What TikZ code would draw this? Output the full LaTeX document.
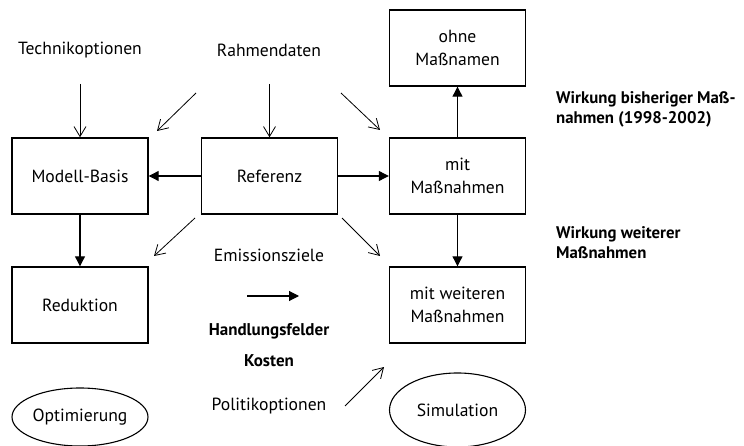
\documentclass[tikz,border=0pt]{standalone}
\usepackage{fontspec}
\setmainfont{PT Sans}
\usetikzlibrary{arrows.meta,shapes.geometric}
\tikzset{
  box/.style={draw,line width=1.4pt,minimum width=136pt,minimum height=76pt,align=center,inner sep=2pt},
  oval/.style={draw,ellipse,line width=1.1pt,minimum width=136pt,align=center,inner sep=0pt},
  lbl/.style={align=center,inner sep=1pt},
  boldlbl/.style={align=center,inner sep=1pt,font=\fontsize{17}{22}\selectfont\bfseries},
  note/.style={align=left,inner sep=1pt,anchor=west,font=\fontsize{16.8}{20}\selectfont\bfseries},
  solidarrow/.style={line width=1.1pt,-{Triangle[length=10pt,width=10pt]}},
  openarrow/.style={line width=0.8pt,-{Straight Barb[length=10pt,width=12pt,line width=0.8pt]}},
}
\begin{document}
\begin{tikzpicture}[x=1pt,y=-1pt,font=\fontsize{17.6}{23}\selectfont]
\useasboundingbox (0,0) rectangle (744,446);
% boxes
\node[box] (mb) at (80,176) {Modell-Basis};
\node[box] (ref) at (269.5,176) {Referenz};
\node[box] (ohne) at (457.5,48) {ohne\\Maßnamen};
\node[box] (mit) at (457.5,176) {mit\\Maßnahmen};
\node[box] (red) at (80,305) {Reduktion};
\node[box] (mw) at (457.5,305) {mit weiteren\\Maßnahmen};
\node[oval,minimum height=58pt] (opt) at (80,417) {Optimierung};
\node[oval,minimum height=74pt] (sim) at (457.5,410) {Simulation};
% labels
\node[lbl] (tech) at (80,50) {Technikoptionen};
\node[lbl] (rahmen) at (269,50) {Rahmendaten};
\node[lbl] (emis) at (269,255) {Emissionsziele};
\node[boldlbl] (hand) at (269,331) {Handlungsfelder};
\node[boldlbl] (kost) at (269,361) {Kosten};
\node[lbl] (poli) at (269,406) {Politikoptionen};
\node[note] (wb) at (555,109) {Wirkung bisheriger Maß-\\nahmen (1998-2002)};
\node[note] (ww) at (555,243) {Wirkung weiterer\\Maßnahmen};
% free ends
\coordinate (tA) at (80,84);
\coordinate (rA) at (269.5,84);
\coordinate (d1s) at (196,93);  \coordinate (d1e) at (157,131);
\coordinate (d2s) at (341,93);  \coordinate (d2e) at (380,130);
\coordinate (d3s) at (195,218); \coordinate (d3e) at (154,256);
\coordinate (d4s) at (342,218); \coordinate (d4e) at (380,256);
\coordinate (d5s) at (345,406); \coordinate (d5e) at (384,367);
\coordinate (la) at (247,296);  \coordinate (lb) at (299,296);
% connectors
\draw[openarrow] (tA) -- (mb.north);
\draw[openarrow] (rA) -- (ref.north);
\draw[openarrow] (d1s) -- (d1e);
\draw[openarrow] (d2s) -- (d2e);
\draw[openarrow] (d3s) -- (d3e);
\draw[openarrow] (d4s) -- (d4e);
\draw[openarrow] (d5s) -- (d5e);
\draw[solidarrow] (ref.west) -- (mb.east);
\draw[solidarrow] (ref.east) -- (mit.west);
\draw[solidarrow] (mit.north) -- (ohne.south);
\draw[solidarrow] (mit.south) -- (mw.north);
\draw[solidarrow] (mb.south) -- (red.north);
\draw[solidarrow] (la) -- (lb);
\end{tikzpicture}
\end{document}
